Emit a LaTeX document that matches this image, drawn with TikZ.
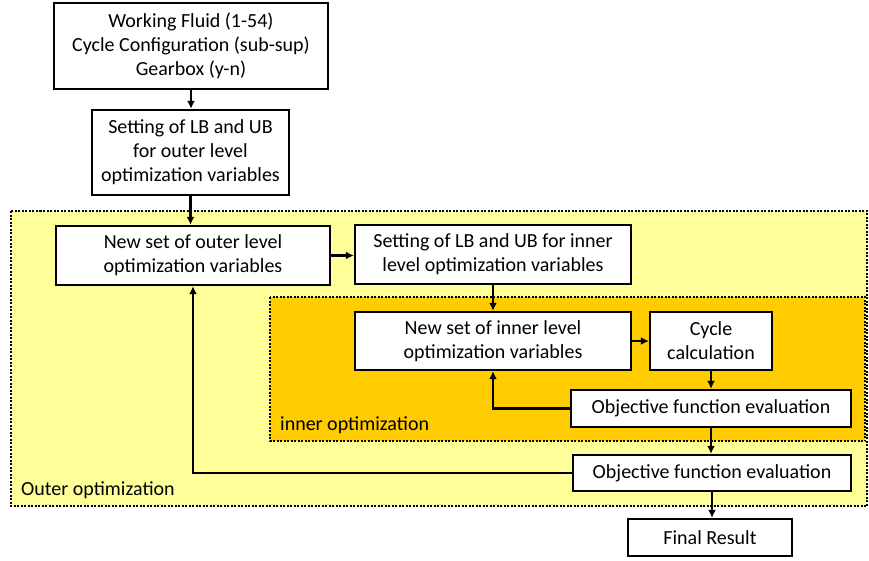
\documentclass[tikz,border=0pt]{standalone}
\usepackage{fontspec}
\setmainfont{Carlito}
\usetikzlibrary{arrows.meta}
\definecolor{outerfill}{RGB}{255,255,153}
\definecolor{innerfill}{RGB}{255,204,0}
\tikzset{
  stepbox/.style={draw=black, line width=2.4pt, fill=white, inner sep=0pt,
    align=center, font=\fontsize{20}{24}\selectfont},
  arr/.style={line width=2.4pt, -{Latex[length=8pt,width=8pt]}},
  region/.style={draw=black, line width=2pt, dash pattern=on 2pt off 1.5pt},
  regionlabel/.style={anchor=base west, inner sep=0pt, font=\fontsize{20}{24}\selectfont}
}
\begin{document}
\begin{tikzpicture}[x=1pt,y=-1pt]
\useasboundingbox (0,0) rectangle (869,560);
% optimization regions
\draw[region, fill=outerfill] (11,211) rectangle (867,506);
\draw[region, fill=innerfill] (270,297) rectangle (865,441);
\node[regionlabel] (outerlbl) at (21,495) {Outer optimization};
\node[regionlabel] (innerlbl) at (280,430) {inner optimization};
% process boxes
\node[stepbox, minimum width=274pt, minimum height=86pt] (top) at (191,46)
  {Working Fluid (1-54)\\Cycle Configuration (sub-sup)\\Gearbox (y-n)};
\node[stepbox, minimum width=197pt, minimum height=85pt] (lbo) at (190.5,152.5)
  {Setting of LB and UB\\for outer level\\optimization variables};
\node[stepbox, minimum width=274pt, minimum height=59pt] (newo) at (193,255.5)
  {New set of outer level\\optimization variables};
\node[stepbox, minimum width=276pt, minimum height=59pt] (lbi) at (493,254.5)
  {Setting of LB and UB for inner\\level optimization variables};
\node[stepbox, minimum width=276pt, minimum height=58pt] (newi) at (493,341)
  {New set of inner level\\optimization variables};
\node[stepbox, minimum width=122pt, minimum height=58pt] (cyc) at (711,341)
  {Cycle\\calculation};
\node[stepbox, minimum width=280pt, minimum height=37pt] (obji) at (711,408.5)
  {Objective function evaluation};
\node[stepbox, minimum width=278pt, minimum height=36pt] (objo) at (712,473)
  {Objective function evaluation};
\node[stepbox, minimum width=164pt, minimum height=37pt] (fin) at (710,537.5)
  {Final Result};
% connectors
\draw[arr] (top.south) -- (top.south |- lbo.north);
\draw[arr] (lbo.south) -- (lbo.south |- newo.north);
\draw[arr] (newo.east) -- (newo.east -| lbi.west);
\draw[arr] (lbi.south) -- (lbi.south |- newi.north);
\draw[arr] (newi.east) -- (newi.east -| cyc.west);
\draw[arr] (cyc.south) -- (cyc.south |- obji.north);
\draw[arr] (obji.south) -- (obji.south |- objo.north);
\draw[arr] (objo.south) -- (objo.south |- fin.north);
\draw[arr] (obji.west) -| (newi.south);
\draw[arr] (objo.west) -| (newo.south);
\end{tikzpicture}
\end{document}
